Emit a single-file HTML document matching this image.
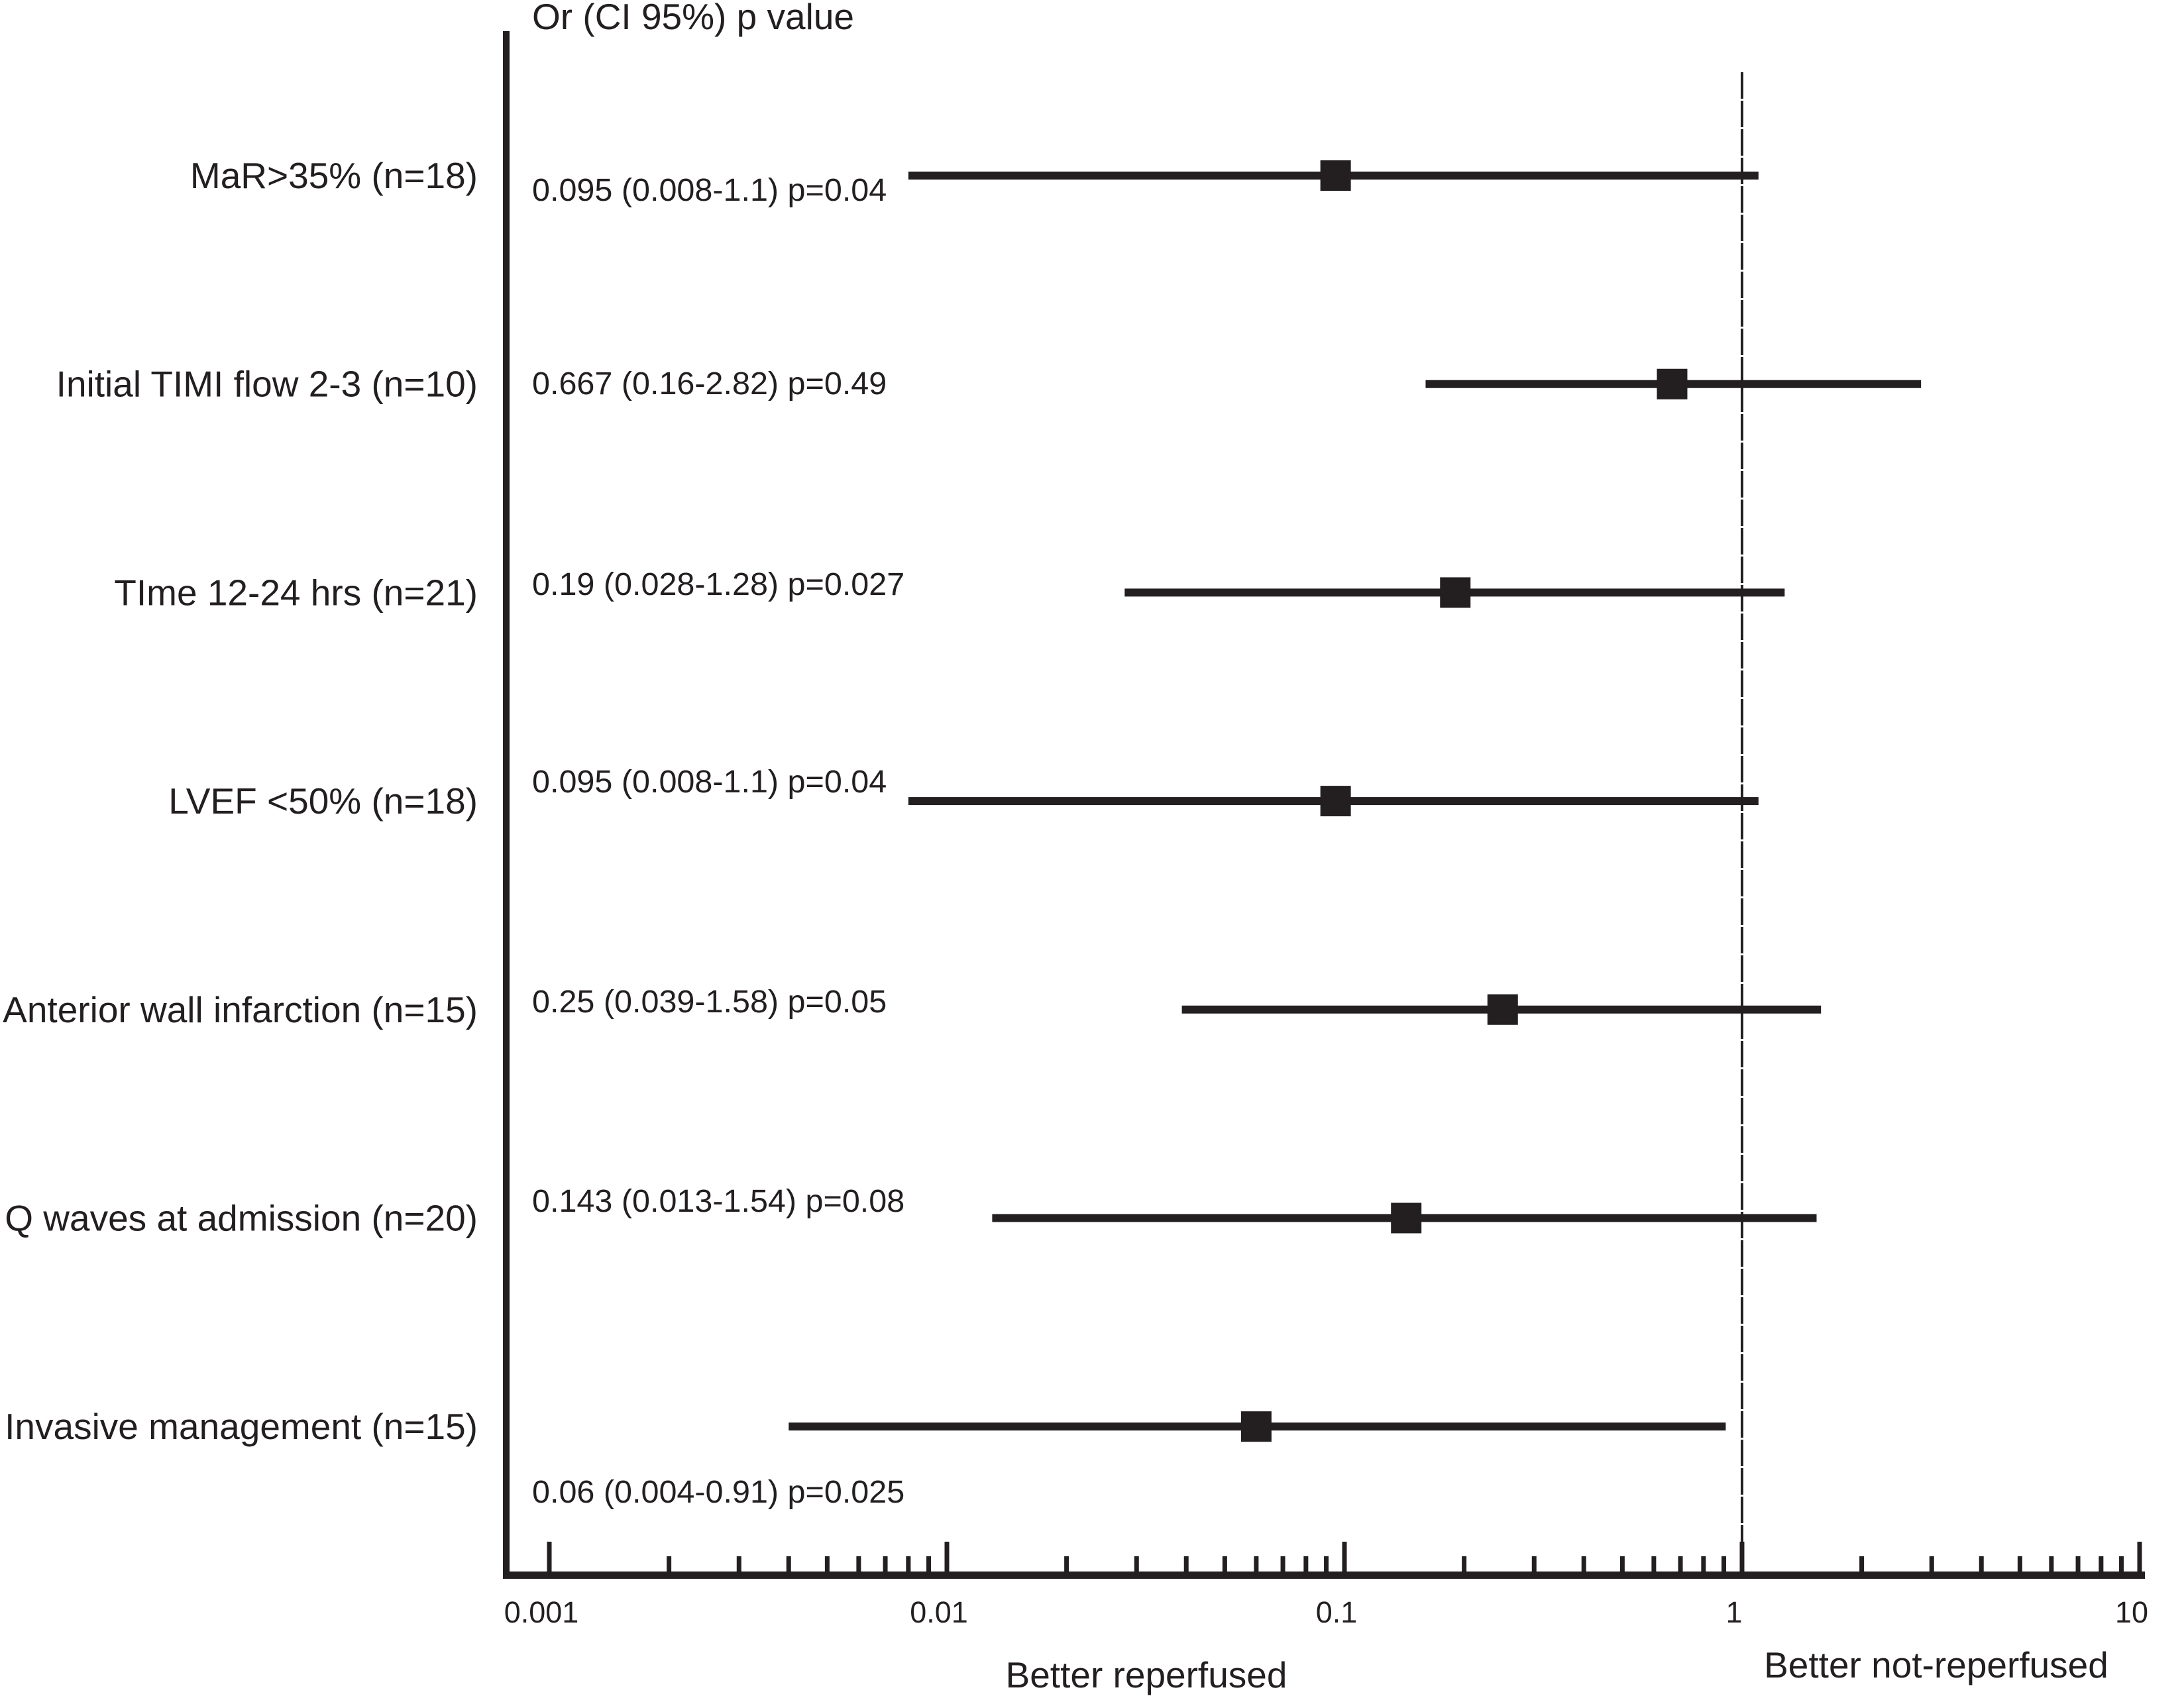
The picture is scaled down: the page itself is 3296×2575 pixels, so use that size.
<!DOCTYPE html>
<html><head><meta charset="utf-8"><style>
html,body{margin:0;padding:0;background:#fff;}
svg{display:block;font-family:"Liberation Sans",Arial,sans-serif;fill:#231f20;}
</style></head><body>
<svg id="chart" width="3296" height="2575" viewBox="0 0 3296 2575" xmlns="http://www.w3.org/2000/svg">
<g id="marks"></g>
</svg>
<script>
const labels = ["MaR>35% (n=18)","Initial TIMI flow 2-3 (n=10)","TIme 12-24 hrs (n=21)","LVEF <50% (n=18)","Anterior wall infarction (n=15)","Q waves at admission (n=20)","Invasive management (n=15)"];
const orValues = [0.095,0.667,0.19,0.095,0.25,0.143,0.06];
const ciLow = [0.008,0.16,0.028,0.008,0.039,0.013,0.004];
const ciHigh = [1.1,2.82,1.28,1.1,1.58,1.54,0.91];
const statTexts = ["0.095 (0.008-1.1) p=0.04","0.667 (0.16-2.82) p=0.49","0.19 (0.028-1.28) p=0.027","0.095 (0.008-1.1) p=0.04","0.25 (0.039-1.58) p=0.05","0.143 (0.013-1.54) p=0.08","0.06 (0.004-0.91) p=0.025"];
const statY = [303,595,898,1196,1528,1829,2268];
const tickLabels = ["0.001","0.01","0.1","1","10"];
const majorTicks = [0.001,0.01,0.1,1,10];

const NS="http://www.w3.org/2000/svg";
const g=document.getElementById('marks');
function x(v){return 829+600*(Math.log10(v)+3);}
function y(i){return 265+314.7*i;}
function mk(t,a,txt){const e=document.createElementNS(NS,t);for(const k in a)e.setAttribute(k,a[k]);if(txt!==undefined)e.textContent=txt;g.appendChild(e);return e;}

let e=mk('rect',{x:759,y:47,width:10,height:2336,fill:'#231f20'});


e=mk('rect',{x:759,y:2372,width:2478,height:11,fill:'#231f20'});


e=mk('line',{x1:x(1),y1:109,x2:x(1),y2:2372,stroke:'#231f20','stroke-width':4,'stroke-dasharray':'40 3'});



for(let d=0;d<4;d++){for(let m=1;m<=9;m++){const v=majorTicks[d]*m;const major=m===1;
 e=mk('rect',{x:x(v)-3.5,y:major?2327:2349,width:7,height:major?46:24,fill:'#231f20'});
 
 }}
e=mk('rect',{x:x(10)-3.5,y:2327,width:7,height:46,fill:'#231f20'});


tickLabels.forEach((t,i)=>{
 e=mk('text',{x:x(majorTicks[i])-12,y:2449,'font-size':45,'text-anchor':'middle'},t);
 
 
});

e=mk('text',{x:803,y:44,'font-size':55},'Or (CI 95%) p value');


e=mk('text',{x:1730,y:2547,'font-size':55,'text-anchor':'middle'},'Better reperfused');


e=mk('text',{x:2922,y:2532,'font-size':55,'text-anchor':'middle'},'Better not-reperfused');



labels.forEach((l,i)=>{
 const yy=y(i);
 e=mk('text',{x:721,y:yy+19,'font-size':55,'text-anchor':'end'},l);
 
 
 e=mk('text',{x:803,y:statY[i],'font-size':48.5},statTexts[i]);
 
 
 e=mk('rect',{x:x(ciLow[i]),y:yy-6,width:x(ciHigh[i])-x(ciLow[i]),height:12,fill:'#231f20'});
 
 
 e=mk('rect',{x:x(orValues[i])-23,y:yy-23,width:46,height:46,fill:'#231f20'});
 
 
});
</script>
</body></html>
